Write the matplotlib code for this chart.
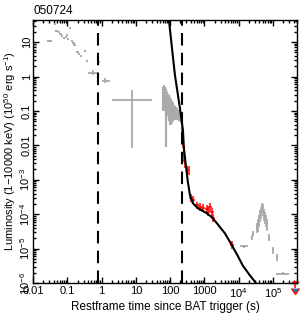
import numpy as np
import matplotlib
matplotlib.use('Agg')
from matplotlib import pyplot as plt
from matplotlib.ticker import LogLocator, NullFormatter, FixedLocator, FixedFormatter

plt.rcParams['font.family'] = ['Liberation Sans', 'DejaVu Sans']
plt.rcParams['mathtext.fontset'] = 'custom'
plt.rcParams['mathtext.rm'] = 'Liberation Sans'

GRAY = '#aaaaaa'

# BAT early light curve (short dashes)
bat_t = [0.0115, 0.030, 0.044, 0.050, 0.058, 0.063, 0.070, 0.080, 0.092, 0.098, 0.105,
         0.12, 0.137, 0.15, 0.165, 0.20, 0.22, 0.25, 0.33, 0.37, 0.80]
bat_L = [7.8, 10.5, 34, 21, 19, 17, 15, 13, 14, 16, 12,
         26, 11, 9.3, 8, 5, 4.4, 3.9, 5.5, 2.8, 2.6]
bat_tlo = [0.0100, 0.026, 0.040, 0.045, 0.053, 0.058, 0.064, 0.073, 0.084, 0.090, 0.096,
           0.11, 0.125, 0.137, 0.15, 0.183, 0.20, 0.23, 0.30, 0.34, 0.73]
bat_thi = [0.0135, 0.036, 0.048, 0.055, 0.063, 0.069, 0.077, 0.088, 0.10, 0.107, 0.115,
           0.13, 0.15, 0.164, 0.18, 0.22, 0.24, 0.27, 0.36, 0.40, 0.87]

# BAT binned crosses
cross_t = [0.56, 1.3, 7.7]
cross_L = [1.3, 0.75, 0.21]
cross_tlo = [0.40, 1.03, 2.0]
cross_thi = [0.78, 1.75, 29.6]
cross_Llo = [1.1, 0.63, 0.0083]
cross_Lhi = [1.55, 0.9, 0.40]

# XRT WT band (gray)
wt_t = [63, 66, 69, 72, 75, 78, 82, 86, 90, 95, 100, 106, 112, 118, 125, 133, 141, 150,
        160, 170, 182, 195, 208]
wt_L = [0.25, 0.30, 0.28, 0.25, 0.22, 0.12, 0.20, 0.18, 0.16, 0.15, 0.13, 0.12, 0.11, 0.10,
        0.10, 0.095, 0.09, 0.085, 0.08, 0.075, 0.07, 0.07, 0.065]
wt_Llo = [0.10, 0.12, 0.12, 0.10, 0.09, 0.009, 0.08, 0.07, 0.06, 0.05, 0.04, 0.04, 0.045, 0.05,
          0.05, 0.055, 0.055, 0.055, 0.055, 0.055, 0.05, 0.05, 0.045]
wt_Lhi = [0.50, 0.55, 0.48, 0.45, 0.42, 0.38, 0.35, 0.32, 0.30, 0.27, 0.25, 0.22, 0.20, 0.18,
          0.16, 0.15, 0.14, 0.13, 0.12, 0.11, 0.10, 0.095, 0.09]

# fitted data (red)
red_t = [225, 232, 240, 248, 256, 268, 315, 345, 404, 460, 600, 740, 900, 1180, 1260,
         1450, 1660, 1780, 6300]
red_L = [0.03, 0.018, 0.011, 0.007, 0.0045, 0.003, 0.0019, 0.0019, 2.9e-4, 2.6e-4, 1.8e-4,
         1.6e-4, 1.5e-4, 1.4e-4, 1.2e-4, 1.6e-4, 1.15e-4, 7.8e-5, 1.26e-5]
red_xf = [1.02, 1.02, 1.02, 1.02, 1.03, 1.04, 1.05, 1.06, 1.15, 1.15, 1.15, 1.15, 1.15, 1.15,
          1.12, 1.15, 1.12, 1.12, 1.15]
red_yf = [1.35, 1.35, 1.35, 1.35, 1.35, 1.35, 1.35, 1.35, 1.3, 1.3, 1.3, 1.3, 1.3, 1.35, 1.35,
          1.3, 1.3, 1.3, 1.3]

# upper limit (red)
ul_t, ul_L, ul_tlo, ul_thi = 4.4e5, 1.05e-6, 3.9e5, 5.3e5

# late XRT (gray)
late_t = [1.4e4, 2.4e4, 2.6e4, 3.4e4, 3.6e4, 3.9e4, 4.1e4, 4.4e4, 4.7e4, 5.0e4, 5.4e4, 5.7e4,
          6.1e4, 6.6e4, 7.6e4, 1.0e5, 1.3e5, 1.9e5]
late_L = [1.17e-5, 2.1e-5, 2.8e-5, 3.9e-5, 4.7e-5, 6.5e-5, 8.8e-5, 1.1e-4, 1.5e-4, 1.3e-4,
          9.5e-5, 7.8e-5, 6.3e-5, 5.0e-5, 2.1e-5, 9e-6, 5.6e-6, 1.9e-6]
late_xf = [1.3, 1.06, 1.06, 1.05, 1.04, 1.04, 1.04, 1.04, 1.04, 1.04, 1.04, 1.04, 1.04, 1.04,
           1.05, 1.08, 1.06, 1.55]
late_yf = [1.12, 1.2, 1.2, 1.4, 1.5, 1.5, 1.5, 1.5, 1.4, 1.5, 1.5, 1.5, 1.5, 1.5,
           1.25, 1.25, 1.25, 1.12]

# model curve (black)
mod_t = [92, 138, 193, 236, 252, 288, 330, 378, 460, 640, 1170, 1650, 2300, 3960, 6330,
         9550, 1.3e4, 2.1e4, 3.2e4, 3.6e4]
mod_L = [44, 1.1, 0.12, 0.028, 0.0083, 0.0026, 8.5e-4, 3.6e-4, 2.1e-4, 1.5e-4, 1.07e-4,
         8.2e-5, 5.5e-5, 2.8e-5, 1.26e-5, 6e-6, 3.3e-6, 1.7e-6, 1.0e-6, 8e-7]

# dashed lines
vlines_t = [0.80, 216]


def err(v, lo, hi):
    v = np.array(v); lo = np.array(lo); hi = np.array(hi)
    return [v - lo, hi - v]


def ferr(v, f):
    v = np.array(v); f = np.array(f)
    return [v - v / f, v * f - v]


fig = plt.figure(figsize=(3.03, 3.16), dpi=100)
ax = fig.add_axes([0.109, 0.104, 0.871, 0.833])

ax.errorbar(bat_t, bat_L, xerr=err(bat_t, bat_tlo, bat_thi), fmt='none', ecolor=GRAY, elinewidth=1.4)
ax.errorbar(cross_t, cross_L, xerr=err(cross_t, cross_tlo, cross_thi),
            yerr=err(cross_L, cross_Llo, cross_Lhi), fmt='none', ecolor=GRAY, elinewidth=1.3)
ax.errorbar(wt_t, wt_L, yerr=err(wt_L, wt_Llo, wt_Lhi), fmt='none', ecolor=GRAY, elinewidth=1.6)
ax.errorbar(late_t, late_L, xerr=ferr(late_t, late_xf), yerr=ferr(late_L, late_yf),
            fmt='none', ecolor=GRAY, elinewidth=1.3)
ax.errorbar(red_t, red_L, xerr=ferr(red_t, red_xf), yerr=ferr(red_L, red_yf),
            fmt='none', ecolor='red', elinewidth=1.1)
ax.errorbar([ul_t], [ul_L], xerr=[[ul_t - ul_tlo], [ul_thi - ul_t]], fmt='none', ecolor='red', elinewidth=1.1)
ax.errorbar([ul_t], [ul_L], yerr=[[ul_L * 0.3], [0]], uplims=True, fmt='none', ecolor='red',
            elinewidth=1.1, capsize=3, clip_on=False)

ax.plot(mod_t, mod_L, color='black', lw=1.5)
for v in vlines_t:
    ax.axvline(v, color='black', lw=1.5, dashes=(6, 3.5))

ax.set_xscale('log')
ax.set_yscale('log')
ax.set_xlim(0.01, 5.0e5)
ax.set_ylim(1e-6, 44)

xt = [0.01, 0.1, 1, 10, 100, 1000, 1e4, 1e5]
xl = ['0.01', '0.1', '1', '10', '100', '1000', '$10^4$', '$10^5$']
yt = [1e-6, 1e-5, 1e-4, 1e-3, 0.01, 0.1, 1, 10]
yl = ['$10^{-6}$', '$10^{-5}$', '$10^{-4}$', '$10^{-3}$', '0.01', '0.1', '1', '10']
ax.xaxis.set_major_locator(FixedLocator(xt))
ax.xaxis.set_major_formatter(FixedFormatter(xl))
ax.yaxis.set_major_locator(FixedLocator(yt))
ax.yaxis.set_major_formatter(FixedFormatter(yl))
ax.xaxis.set_minor_locator(LogLocator(base=10, subs=np.arange(2, 10), numticks=20))
ax.yaxis.set_minor_locator(LogLocator(base=10, subs=np.arange(2, 10), numticks=20))
ax.xaxis.set_minor_formatter(NullFormatter())
ax.yaxis.set_minor_formatter(NullFormatter())
ax.tick_params(which='both', direction='in', top=True, right=True, labelsize=8, width=1)
ax.tick_params(which='major', length=4)
ax.tick_params(which='minor', length=2)
ax.tick_params(axis='x', pad=2)
ax.tick_params(axis='y', pad=1)
for lab in ax.get_yticklabels():
    lab.set_rotation(90)
    lab.set_va('center')
for s in ax.spines.values():
    s.set_linewidth(1)

ax.set_xlabel('Restframe time since BAT trigger (s)', fontsize=8.5, labelpad=1)
ax.set_ylabel('Luminosity (1\u221210000 keV) (10$^{50}$ erg s$^{-1}$)', fontsize=8, labelpad=0)
ax.set_title('050724', fontsize=8.5, loc='left', pad=4)

fig.savefig('out.png', dpi=100)
